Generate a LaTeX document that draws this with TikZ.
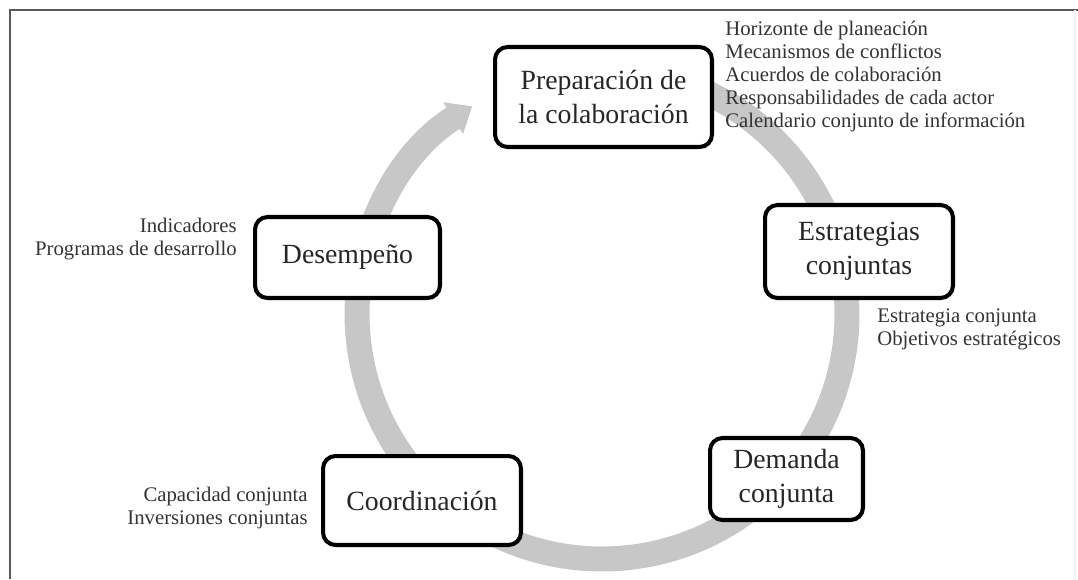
\documentclass[tikz,border=0pt]{standalone}
\usepackage{fontspec}
\setmainfont{Liberation Serif}
\usetikzlibrary{arrows.meta,calc,shadows}

\begin{document}
\begin{tikzpicture}[x=0.02cm,y=-0.02cm,
  stage/.style={draw=black, line width=2.3pt, rounded corners=0.25cm, fill=white,
    align=center, inner sep=0pt, text=black!85,
    font=\fontsize{15.8}{19.5}\selectfont,
    drop shadow={shadow xshift=1pt, shadow yshift=-1pt, opacity=0.25}},
  note/.style={inner sep=0pt, text=black!80, font=\fontsize{11.8}{13.1}\selectfont},
  ring/.style={line width=0.5cm, draw=black!22},
  frameline/.style={line width=1.7pt, draw=black!65}
]
\useasboundingbox (0,0) rectangle (1078,579);

% outer frame
\draw[frameline] (10,579) -- (10,10) -- (1078,10);
\draw[line width=0.6pt, draw=black!5] (1075,10) -- (1075,579);

% cycle ring with arrowhead
\coordinate (c) at (602,314);
\draw[ring, -{Triangle[width=0.72cm,length=0.45cm]}]
  ($(c)+(95:4.9cm)$) arc[start angle=95, end angle=-238, radius=4.9cm];

% stages
\node[stage, minimum width=4.34cm, minimum height=2cm] (prep) at (603.5,97)
  {Preparación de\\la colaboración};
\node[stage, minimum width=3.76cm, minimum height=1.86cm] (estr) at (859,251.5)
  {Estrategias\\conjuntas};
\node[stage, minimum width=3.06cm, minimum height=1.64cm] (dem) at (786.5,479)
  {Demanda\\conjunta};
\node[stage, minimum width=3.96cm, minimum height=1.78cm] (coord) at (422,500.5)
  {Coordinación};
\node[stage, minimum width=3.7cm, minimum height=1.62cm] (desem) at (347.5,257.5)
  {Desempeño};

% notes
\node[note, anchor=north west, align=left] (nprep) at (725,21)
  {Horizonte de planeación\\Mecanismos de conflictos\\Acuerdos de colaboración\\Responsabilidades de cada actor\\Calendario conjunto de información};
\node[note, anchor=north west, align=left] (nestr) at (877,308)
  {Estrategia conjunta\\Objetivos estratégicos};
\node[note, anchor=north east, align=right] (ncoord) at (308,487)
  {Capacidad conjunta\\Inversiones conjuntas};
\node[note, anchor=north east, align=right] (ndesem) at (237,218)
  {Indicadores\\Programas de desarrollo};
\end{tikzpicture}
\end{document}
